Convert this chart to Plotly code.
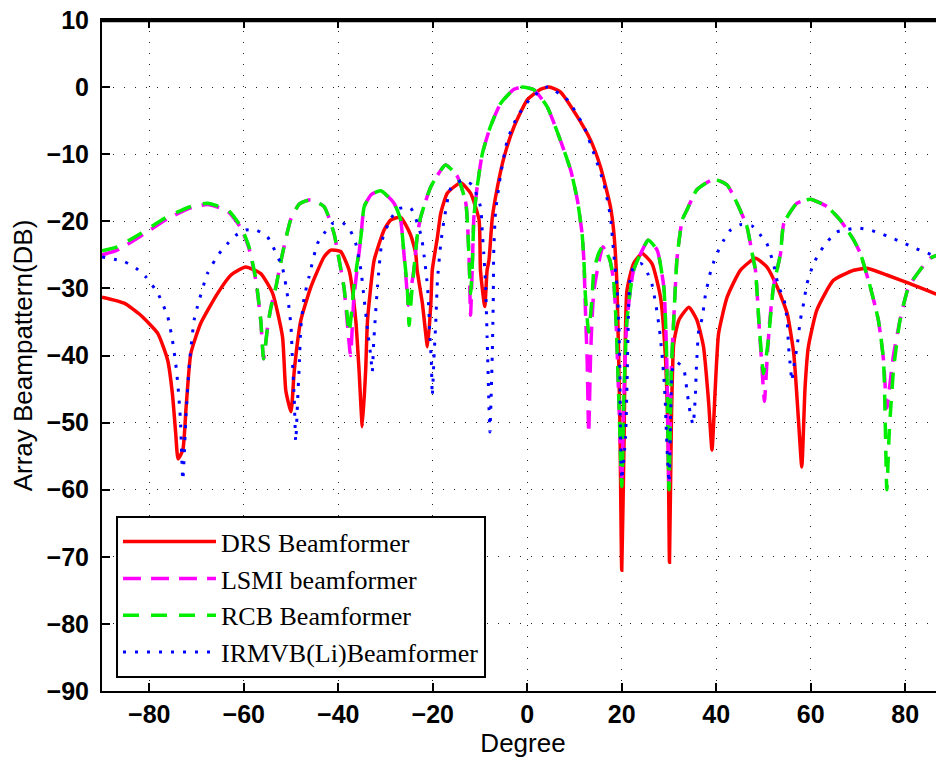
import plotly.graph_objects as go

# ---------------- data ----------------
drs_x = [-90, -85.3, -81.8, -78.2, -76.1, -75.1, -74.4, -73.9, -72.9, -72.2, -71.2, -69.1, -65.5, -62.7,
         -59.6, -56.4, -53.9, -51.8, -51.1, -50.0, -49.3, -47.9, -45.8, -43.0, -41.6, -39.5, -37.7, -36.3,
         -35.6, -34.9, -34.2, -33.8, -32.4, -30.3, -28.9, -26.8, -24.7, -23.6, -23.3, -22.2, -21.1, -20.4,
         -20.1, -19.0, -18.3, -16.9, -14.1, -12.0, -10.2, -9.9, -9.0, -8.5, -8.1, -7.4, -6.3, -4.9, -2.8,
         0.0, 2.8, 4.6, 7.0, 10.6, 13.4, 15.5, 17.6, 18.3, 19.0, 19.6, 20.0, 20.5, 21.1, 22.5, 24.3, 26.4,
         28.2, 29.2, 29.8, 30.1, 30.5, 31.0, 32.1, 34.2, 35.9, 37.3, 38.4, 39.1, 39.8, 40.5, 42.3, 45.1,
         48.3, 50.7, 52.9, 55.0, 56.4, 57.4, 58.1, 58.8, 59.5, 61.3, 64.8, 69.1, 71.9, 76.1, 81.0, 86.0, 88.2]
drs_y = [-31.3, -32.2, -34.0, -36.7, -40.7, -45.7, -51.6, -55.4, -54.1, -47.7, -39.7, -35.2, -30.7, -28.0,
         -26.8, -27.8, -30.7, -37.2, -45.2, -48.4, -42.2, -34.7, -29.8, -25.3, -24.3, -24.5, -27.3, -34.7,
         -42.2, -50.6, -42.2, -34.7, -25.8, -21.3, -19.8, -19.4, -22.0, -24.8, -27.3, -32.2, -38.7, -32.2,
         -27.3, -22.3, -18.8, -15.8, -14.25, -15.8, -19.8, -27.3, -32.7, -27.3, -25.8, -19.5, -14.85, -10.4, -5.9,
         -1.9, -0.33, 0.0, -0.7, -4.4, -7.9, -11.9, -17.8, -21.5, -29.8, -49.6, -72.0, -52.0, -30.3, -26.3, -24.8, -26.3,
         -31.3, -39.7, -52.1, -70.8, -50.0, -38.2, -34.7, -32.8, -34.7, -38.7, -47.1, -54.1, -44.7, -36.7, -31.3, -27.3,
         -25.5, -26.8, -29.8, -33.7, -39.7, -49.6, -56.6, -44.7, -38.7, -33.2, -28.8, -27.3, -27.0, -28.0, -29.3, -30.7, -31.2]

lsmi_x = [-90, -86.8, -81.8, -76.1, -71.2, -67.7, -63.4, -60.6, -58.9, -57.4, -56.4, -55.8, -55.0, -54.3,
          -53.2, -51.8, -50.0, -48.2, -45.8, -43.0, -40.9, -39.8, -38.8, -38.1, -37.4, -36.7, -35.2, -34.5,
          -33.0, -31.0, -28.2, -26.8, -26.1, -25.6, -25.2, -24.6, -24.0, -23.3, -22.6, -20.4, -17.3, -14.8,
          -13.0, -12.3, -12.0, -11.6, -11.3, -10.6, -9.5, -7.8, -5.6, -2.8, -1.0, 1.4, 4.2, 7.0, 9.2, 10.6,
          11.6, 12.0, 12.3, 12.7, 13.0, 13.4, 13.7, 14.1, 15.1, 16.0, 17.5, 18.3, 18.8, 19.4, 20.0, 20.5,
          21.1, 22.5, 24.7, 25.6, 27.5, 28.9, 29.5, 30.0, 30.5, 31.0, 31.7, 32.8, 33.8, 35.9, 39.5, 42.3,
          44.4, 46.5, 47.6, 48.3, 49.0, 49.6, 50.2, 50.8, 51.3, 52.1, 53.6, 54.3, 57.1, 59.9, 63.4, 66.2,
          69.1, 70.5, 72.6, 74.3, 75.4, 76.1, 76.8, 77.5, 78.9, 80.7, 83.1, 85.3, 87.7, 88.2]
lsmi_y = [-25.0, -24.3, -22.2, -19.6, -18.0, -17.5, -18.5, -21.0, -24.0, -29.0, -34.9, -40.5, -36.0, -33.0,
          -29.8, -24.8, -19.6, -17.4, -16.8, -17.8, -21.8, -25.8, -29.8, -35.0, -40.0, -31.5, -22.3, -17.8,
          -16.0, -15.45, -17.3, -19.8, -24.8, -29.0, -32.5, -30.0, -27.3, -22.3, -19.5, -14.85, -11.6, -13.3,
          -17.3, -25.8, -34.0, -26.0, -19.5, -14.85, -9.9, -5.9, -2.4, -0.33, 0.0, -0.4, -2.9, -7.9, -12.4, -16.8,
          -21.8, -26.0, -33.0, -41.2, -51.6, -40.0, -34.7, -30.3, -26.3, -23.8, -25.8, -29.0, -35.0, -47.0, -58.5, -45.0,
          -34.7, -27.3, -23.8, -22.8, -24.3, -29.8, -40.0, -59.0, -42.0, -34.7, -25.5, -19.8, -18.3, -15.3, -13.7, -14.6,
          -17.3, -20.8, -24.8, -27.3, -34.7, -41.0, -46.8, -40.0, -35.0, -29.8, -24.8, -20.3, -17.3, -16.7, -17.8, -19.8,
          -22.8, -24.8, -29.8, -34.7, -40.7, -47.8, -44.0, -40.0, -34.7, -29.8, -27.3, -25.5, -24.8, -24.7]

rcb_x = [-90, -86.8, -81.8, -76.1, -71.2, -67.7, -63.4, -60.6, -58.9, -57.4, -56.4, -55.8, -55.0, -54.3,
         -53.2, -51.8, -50.0, -48.2, -45.8, -43.0, -40.9, -39.8, -38.8, -38.1, -37.7, -37.1, -36.7, -35.2, -34.5,
         -33.0, -31.0, -28.2, -26.8, -26.1, -25.4, -25.0, -24.5, -24.0, -23.3, -22.6, -20.4, -17.3, -14.8,
         -13.0, -12.3, -12.0, -11.6, -11.3, -10.6, -9.5, -7.8, -5.6, -2.8, -1.0, 1.4, 4.2, 7.0, 9.2, 10.6,
         11.6, 12.0, 12.3, 13.0, 13.7, 14.1, 15.1, 16.0, 17.5, 18.3, 18.8, 19.4, 20.0, 20.5,
         21.1, 22.5, 24.7, 25.6, 27.5, 28.9, 29.5, 30.0, 30.5, 31.0, 31.7, 32.8, 33.8, 35.9, 39.5, 42.3,
         44.4, 46.5, 47.6, 48.3, 49.0, 50.0, 50.6, 51.1, 52.1, 53.6, 54.3, 57.1, 59.9, 63.4, 66.2,
         69.1, 70.5, 72.6, 74.3, 75.4, 76.1, 76.6, 77.5, 78.9, 80.7, 83.1, 85.3, 87.7, 88.2]
rcb_y = [-24.4, -23.8, -21.8, -19.3, -17.8, -17.3, -18.3, -20.8, -23.8, -28.8, -34.7, -40.5, -36.0, -33.0,
         -29.8, -24.8, -19.6, -17.4, -16.8, -17.8, -21.8, -25.8, -29.8, -34.0, -36.6, -33.0, -29.8, -22.3, -17.8,
         -16.0, -15.45, -17.3, -19.8, -24.8, -29.8, -35.5, -31.0, -27.3, -22.3, -19.5, -14.85, -11.6, -13.3,
         -17.3, -25.8, -30.8, -26.0, -19.5, -14.85, -9.9, -5.9, -2.4, -0.33, 0.0, -0.4, -2.9, -7.9, -12.4, -16.8,
         -21.8, -26.0, -31.0, -36.5, -31.5, -27.3, -24.8, -23.7, -25.8, -29.0, -35.0, -47.0, -59.5, -45.0,
         -34.7, -27.3, -23.8, -22.8, -24.3, -29.8, -40.0, -60.0, -42.0, -34.7, -25.5, -19.8, -18.3, -15.3, -13.7, -14.6,
         -17.3, -20.8, -24.8, -27.3, -34.7, -42.7, -40.0, -37.2, -29.8, -24.8, -20.3, -17.3, -16.7, -17.8, -19.8,
         -22.8, -24.8, -29.8, -34.7, -40.7, -60.0, -51.6, -42.2, -34.7, -29.8, -27.3, -25.5, -24.8, -24.6]

irmvb_x = [-90, -85.3, -82.8, -80.7, -78.2, -76.1, -75.1, -74.4, -73.9, -73.4, -72.9, -72.2, -71.5, -70.5,
           -69.8, -67.7, -65.2, -63.4, -61.7, -59.6, -57.4, -55.0, -51.8, -50.7, -50.0, -49.7, -49.3, -49.0,
           -48.6, -48.3, -47.9, -47.2, -46.2, -44.4, -43.0, -41.2, -39.1, -37.5, -36.3, -35.2, -34.5, -33.8,
           -33.1, -32.8, -32.5, -31.7, -30.7, -28.9, -27.1, -24.7, -23.6, -22.4, -21.8, -21.1, -20.8, -20.6,
           -20.3, -20.1, -19.7, -19.4, -19.0, -18.3, -17.6, -16.2, -13.7, -11.6, -9.9, -9.5, -9.2, -8.8, -8.5,
           -8.3, -8.1, -7.9, -7.6, -7.4, -7.2, -7.1, -6.7, -5.6, -4.2, -2.1, 0.7, 4.2, 8.5, 12.0, 14.1, 16.2,
           17.6, 18.3, 19.0, 19.4, 19.6, 19.7, 20.0, 20.8, 21.1, 21.5, 21.8, 22.5, 24.1, 25.5, 26.4, 27.3, 28.0,
           28.5, 28.9, 29.2, 29.4, 29.7, 30.0, 30.5, 30.9, 31.7, 33.1, 33.5, 33.8, 34.2, 34.5, 35.1, 35.6, 35.8,
           36.3, 37.0, 37.7, 38.8, 39.5, 40.5, 41.6, 43.0, 45.1, 47.6, 49.3, 50.7, 52.1, 53.2, 54.3, 55.0, 55.3,
           55.7, 56.0, 56.4, 57.1, 57.8, 58.5, 59.2, 60.6, 62.0, 63.4, 65.5, 67.7, 70.1, 72.6, 74.7, 77.2, 79.6,
           81.7, 84.2, 86.7, 88.2]
irmvb_y = [-25.3, -26.0, -27.0, -28.3, -30.7, -34.2, -37.7, -41.2, -44.7, -49.6, -58.6, -48.6, -41.2, -34.7,
           -32.7, -27.8, -24.8, -23.3, -22.1, -21.3, -21.3, -22.3, -27.0, -31.3, -35.7, -40.7, -46.7, -52.8,
           -46.7, -42.2, -35.7, -31.3, -28.3, -23.3, -21.8, -20.3, -20.2, -21.3, -23.3, -27.3, -31.7, -36.2,
           -40.2, -42.5, -38.0, -29.8, -22.8, -19.6, -18.1, -18.0, -19.6, -22.3, -25.3, -29.8, -33.7, -37.2,
           -40.7, -46.0, -39.7, -35.7, -28.8, -23.3, -19.8, -15.1, -13.85, -14.6, -17.8, -21.8, -24.8, -29.8, -37.2,
           -42.2, -47.7, -51.4, -45.0, -39.7, -32.2, -24.8, -18.5, -12.9, -7.9, -4.4, -1.7, 0.0, -1.9, -5.9, -9.9, -14.35,
           -19.3, -24.8, -29.8, -35.7, -42.2, -49.6, -58.5, -52.1, -44.7, -31.7, -28.3, -26.8, -26.3, -27.8, -29.4, -32.8, -36.2,
           -39.7, -43.2, -46.7, -50.6, -55.6, -59.0, -45.0, -41.5, -41.0, -42.0, -43.4, -45.4, -47.1, -48.7, -50.3, -45.7, -41.7,
           -36.2, -34.5, -31.0, -27.5, -26.0, -24.3, -22.8, -21.3, -20.5, -20.7, -22.0, -23.3, -26.3, -29.8, -31.5, -34.7, -38.7,
           -41.7, -43.8, -41.7, -38.7, -34.7, -32.2, -29.3, -26.3, -24.5, -23.1, -21.6, -21.2, -21.0, -21.3, -21.8, -22.5, -23.2,
           -23.9, -24.6, -25.3, -25.7]

series_names = ["DRS Beamformer", "LSMI beamformer", "RCB Beamformer", "IRMVB(Li)Beamformer"]
x_ticks = [-80, -60, -40, -20, 0, 20, 40, 60, 80]
y_ticks = [10, 0, -10, -20, -30, -40, -50, -60, -70, -80, -90]

# ---------------- figure ----------------
fig = go.Figure()
fig.add_trace(go.Scatter(x=drs_x, y=drs_y, mode="lines", name=series_names[0],
                         line=dict(color="#ff0000", width=3.5, shape="spline", smoothing=0.5)))
fig.add_trace(go.Scatter(x=lsmi_x, y=lsmi_y, mode="lines", name=series_names[1],
                         line=dict(color="#ff00ff", width=3.5, dash="18px,10px", shape="spline", smoothing=0.5)))
fig.add_trace(go.Scatter(x=rcb_x, y=rcb_y, mode="lines", name=series_names[2],
                         line=dict(color="#00ee00", width=3.5, dash="16px,12px", shape="spline", smoothing=0.5)))
fig.add_trace(go.Scatter(x=irmvb_x, y=irmvb_y, mode="lines", name=series_names[3],
                         line=dict(color="#0000ff", width=3, dash="3px,9px", shape="spline", smoothing=0.5)))

axis_font = dict(family="Liberation Sans, Arial, sans-serif", size=25, color="black", weight="bold")
title_font = dict(family="Liberation Sans, Arial, sans-serif", size=26, color="black")

# the page body has an 8px margin, so margins are set to compensate
fig.update_layout(
    width=944, height=763,
    margin=dict(l=94, r=8, t=12, b=80, autoexpand=False),
    paper_bgcolor="white", plot_bgcolor="white",
    showlegend=True,
    legend=dict(x=0.0166, y=0.2605, xanchor="left", yanchor="top",
                bgcolor="white", bordercolor="black", borderwidth=2,
                font=dict(family="Liberation Serif, Times New Roman, serif", size=26, color="black"),
                itemwidth=93, tracegroupgap=0),
    xaxis=dict(range=[-90, 88.2], tickvals=x_ticks, ticks="inside", ticklen=8, tickwidth=1.5,
               tickcolor="black", showline=True, linecolor="black", linewidth=2, mirror="ticks",
               showgrid=True, gridcolor="#222", gridwidth=1, griddash="1px,10px", zeroline=False,
               tickfont=axis_font, ticklabelstandoff=0, automargin=False, ticklabeloverflow="allow",
               title=dict(text="Degree", font=title_font, standoff=2)),
    yaxis=dict(range=[-90, 10], tickvals=y_ticks, ticks="inside", ticklen=8, tickwidth=1.5,
               tickcolor="black", showline=True, linecolor="black", linewidth=2, mirror=False,
               showgrid=True, gridcolor="#222", gridwidth=1, griddash="1px,10px", zeroline=False,
               tickfont=axis_font, ticklabelstandoff=6, automargin=False, ticklabeloverflow="allow",
               title=dict(text="Array Beampattern(DB)", font=title_font, standoff=6)),
)
# top frame line of the axes box (drawn just inside the top edge)
fig.add_shape(type="line", xref="paper", yref="paper", x0=0, x1=1, y0=0.999, y1=0.999,
              line=dict(color="black", width=3), layer="above")

fig.write_html("out.html", config={"displayModeBar": False})
